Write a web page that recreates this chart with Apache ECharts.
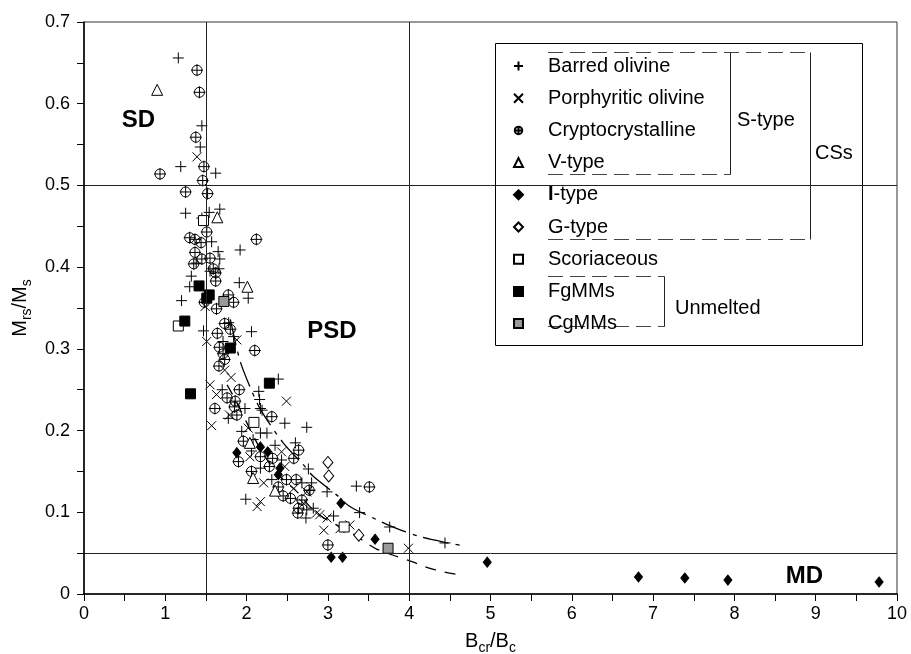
<!DOCTYPE html>
<html>
<head>
<meta charset="utf-8">
<script src="https://cdn.jsdelivr.net/npm/echarts@6/dist/echarts.min.js"></script>
<style>
html, body { margin: 0; padding: 0; background: #fff; }
#chart { width: 911px; height: 654px; }
</style>
</head>
<body>
<div id="chart"></div>
<script>
// points: [Bcr/Bc, Mrs/Ms]
var barredOlivine = [[1.16,0.656],[1.45,0.573],[1.43,0.547],[1.19,0.523],[1.62,0.515],[1.25,0.466],[1.54,0.467],
  [1.67,0.471],[1.45,0.460],[1.57,0.431],[1.92,0.421],[1.65,0.419],[1.67,0.410],[1.66,0.398],[1.32,0.389],[1.30,0.376],
  [1.91,0.381],[2.02,0.362],[1.20,0.359],[1.38,0.405],[1.55,0.395],[1.78,0.332],[1.47,0.322],[2.06,0.321],[1.84,0.315],
  [1.71,0.309],[2.39,0.263],[1.70,0.250],[2.15,0.248],[2.16,0.238],[1.98,0.227],[2.17,0.227],[2.19,0.225],[1.775,0.215],
  [2.47,0.209],[2.74,0.204],[1.94,0.199],[2.17,0.197],[2.25,0.197],[2.08,0.189],[2.35,0.182],[2.60,0.185],[2.06,0.175],
  [2.43,0.164],[2.17,0.154],[2.76,0.153],[2.31,0.140],[2.68,0.136],[2.78,0.127],[1.99,0.116],[2.74,0.103],[2.80,0.136],
  [3.35,0.132],[2.99,0.125],[2.82,0.105],[3.39,0.0996],[2.73,0.093],[3.07,0.0955],[3.76,0.082],[4.44,0.0625]];
var porphyriticOlivine = [[1.39,0.535],[1.49,0.352],[1.51,0.309],[1.88,0.311],[1.73,0.274],[1.81,0.265],[1.55,0.256],
  [1.63,0.244],[2.49,0.236],[1.79,0.219],[1.57,0.206],[2.02,0.203],[2.04,0.168],[2.47,0.156],[2.43,0.174],[2.21,0.136],
  [2.58,0.129],[2.74,0.125],[2.17,0.113],[2.13,0.107],[2.70,0.111],[2.86,0.099],[2.90,0.097],[2.99,0.093],[2.95,0.078],
  [3.15,0.080],[3.27,0.0845],[3.99,0.056]];
var cryptocrystalline = [[1.39,0.641],[1.42,0.614],[1.375,0.559],[1.475,0.523],[0.935,0.514],[1.46,0.506],[1.25,0.492],
  [1.52,0.490],[1.51,0.443],[1.30,0.436],[1.365,0.434],[1.44,0.430],[2.12,0.434],[1.365,0.418],[1.45,0.410],[1.35,0.404],
  [1.55,0.411],[1.59,0.398],[1.62,0.393],[1.62,0.383],[1.775,0.366],[1.48,0.357],[1.84,0.357],[1.63,0.349],[1.73,0.331],
  [1.80,0.324],[1.64,0.319],[1.665,0.302],[2.10,0.298],[1.71,0.294],[1.73,0.287],[1.66,0.279],[1.91,0.250],[1.76,0.240],
  [1.86,0.236],[1.61,0.227],[1.85,0.229],[1.88,0.219],[2.31,0.217],[1.96,0.187],[2.64,0.176],[2.17,0.168],[2.32,0.166],
  [2.58,0.166],[1.90,0.162],[2.28,0.156],[2.06,0.150],[2.49,0.140],[2.61,0.140],[2.39,0.131],[2.45,0.120],[2.54,0.117],
  [2.68,0.115],[2.64,0.105],[2.63,0.099],[3.51,0.131],[2.77,0.127],[3.0,0.060]];
var vType = [[0.90,0.617],[1.64,0.461],[2.01,0.376],[2.04,0.185],[2.08,0.142],[2.35,0.1265]];
var iType = [[1.88,0.173],[2.17,0.180],[2.26,0.174],[2.41,0.154],[2.39,0.146],[3.16,0.111],[3.58,0.067],[3.04,0.045],
  [3.18,0.045],[4.96,0.039],[6.82,0.0208],[7.39,0.0196],[7.92,0.017],[9.78,0.0147]];
var gType = [[3.0,0.161],[3.01,0.1445],[3.38,0.072]];
var scoriaceous = [[1.16,0.328],[1.47,0.457],[2.09,0.210],[3.20,0.082]];
var fgMMs = [[1.415,0.377],[1.54,0.366],[1.51,0.362],[1.24,0.334],[1.80,0.301],[2.28,0.258],[1.31,0.245]];
var cgMMs = [[1.72,0.358],[3.74,0.056]];

// mixing curves
var upperCurve = [[1.80,0.336],[1.92,0.285],[2.04,0.254],[2.17,0.226],[2.45,0.185],[2.70,0.158],[2.82,0.144],
  [3.11,0.121],[3.27,0.107],[3.60,0.091],[3.85,0.080],[4.14,0.070],[4.45,0.063],[4.67,0.059]];
var lowerCurve = [[1.76,0.256],[1.86,0.238],[2.0,0.21],[2.2,0.172],[2.4,0.145],[2.62,0.125],[2.8,0.105],[3.0,0.09],
  [3.2,0.08],[3.32,0.073],[3.48,0.062],[3.60,0.055],[3.83,0.0465],[4.05,0.039],[4.18,0.034],[4.30,0.030],
  [4.42,0.027],[4.55,0.0245],[4.67,0.023]];

var boundaryX = [1.5, 4];
var boundaryY = [0.05, 0.5];
var regionNames = ['SD', 'PSD', 'MD'];
var regionPos = [[0.67,0.58],[3.05,0.321],[8.86,0.021]];

var legendNames = ['Barred olivine','Porphyritic olivine','Cryptocrystalline','V-type','I-type','G-type',
  'Scoriaceous','FgMMs','CgMMs'];

var FONT = '"Liberation Sans", Arial, sans-serif';
var plusPath = 'path://M5,0L5,10M0,5L10,5';
var crossPath = 'path://M0,0L10,10M10,0L0,10';
var circlePlusPath = 'path://M0,5A5,5,0,1,1,10,5A5,5,0,1,1,0,5ZM5,-1L5,11M-1,5L11,5';

function pts(name, data, symbol, size, fill, stroke) {
  return {
    name: name, type: 'scatter', data: data, symbol: symbol, symbolSize: size,
    itemStyle: { color: fill, borderColor: stroke, borderWidth: 1, opacity: 1 },
    emphasis: { disabled: true }, z: 3
  };
}

var chart = echarts.init(document.getElementById('chart'));
var subText = {
  n: { fontSize: 20, fontFamily: FONT, color: '#000', lineHeight: 24, verticalAlign: 'top' },
  s: { fontSize: 14, fontFamily: FONT, color: '#000', lineHeight: 12, verticalAlign: 'bottom' }
};

var option = {
  animation: false,
  grid: { left: 84, right: 14, top: 22, bottom: 60, show: true, borderColor: '#333', borderWidth: 1, outerBoundsMode: 'none' },
  xAxis: {
    type: 'value', min: 0, max: 10, interval: 1,
    name: '{n|B}{s|cr}{n|/B}{s|c}', nameLocation: 'middle', nameGap: 37,
    nameTextStyle: { rich: subText },
    axisLine: { show: true, onZero: false, lineStyle: { color: '#000', width: 1.5 } },
    axisTick: { show: true, inside: false, length: 7, lineStyle: { color: '#000' } },
    minorTick: { show: true, splitNumber: 2, length: 7, lineStyle: { color: '#000' } },
    axisLabel: { fontSize: 18, fontFamily: FONT, color: '#000', margin: 11, showMinLabel: true, showMaxLabel: true },
    splitLine: { show: false }
  },
  yAxis: {
    type: 'value', min: 0, max: 0.7, interval: 0.1,
    name: '{n|M}{s|rs}{n|/M}{s|s}', nameLocation: 'middle', nameGap: 50,
    nameTextStyle: { rich: subText },
    axisLine: { show: true, onZero: false, lineStyle: { color: '#000', width: 1.5 } },
    axisTick: { show: true, inside: false, length: 7, lineStyle: { color: '#000' } },
    minorTick: { show: true, splitNumber: 2, length: 7, lineStyle: { color: '#000' } },
    axisLabel: {
      fontSize: 18, fontFamily: FONT, color: '#000', margin: 14, showMinLabel: true, showMaxLabel: true,
      formatter: function (v) { return v === 0 ? '0' : v.toFixed(1); }
    },
    splitLine: { show: false }
  },
  legend: {
    orient: 'vertical', left: 513, top: 56, padding: 0, itemGap: 12.2,
    itemWidth: 9, itemHeight: 9, selectedMode: false, z: 6,
    data: legendNames,
    formatter: function (name) { return name === 'I-type' ? '{b|I}-type' : name; },
    textStyle: {
      fontSize: 20, fontFamily: FONT, color: '#000', lineHeight: 20, padding: [0, 0, 0, 20],
      rich: { b: { fontSize: 20, fontFamily: FONT, fontWeight: 'bold', color: '#000' } }
    }
  },
  graphic: [
    { type: 'rect', z: 5, shape: { x: 495.5, y: 43.5, width: 367, height: 302 },
      style: { fill: '#fff', stroke: '#000', lineWidth: 1 } },
    // S-type bracket
    { type: 'line', z: 6, shape: { x1: 548, y1: 52.5, x2: 810, y2: 52.5 }, style: { stroke: '#444', lineDash: [15, 7] } },
    { type: 'line', z: 6, shape: { x1: 548, y1: 174.5, x2: 730.5, y2: 174.5 }, style: { stroke: '#444', lineDash: [15, 7] } },
    { type: 'line', z: 6, shape: { x1: 730.5, y1: 52.5, x2: 730.5, y2: 174.5 }, style: { stroke: '#222' } },
    // CSs bracket
    { type: 'line', z: 6, shape: { x1: 548, y1: 239.5, x2: 810.5, y2: 239.5 }, style: { stroke: '#444', lineDash: [15, 7] } },
    { type: 'line', z: 6, shape: { x1: 810.5, y1: 52.5, x2: 810.5, y2: 239.5 }, style: { stroke: '#222' } },
    // Unmelted bracket
    { type: 'line', z: 6, shape: { x1: 548, y1: 276.5, x2: 664.5, y2: 276.5 }, style: { stroke: '#444', lineDash: [15, 7] } },
    { type: 'line', z: 6, shape: { x1: 548, y1: 326.5, x2: 664.5, y2: 326.5 }, style: { stroke: '#444', lineDash: [15, 7] } },
    { type: 'line', z: 6, shape: { x1: 664.5, y1: 276.5, x2: 664.5, y2: 326.5 }, style: { stroke: '#222' } },
    { type: 'text', z: 6, x: 737, y: 120, style: { text: 'S-type', font: '20px ' + FONT, fill: '#000', textVerticalAlign: 'middle' } },
    { type: 'text', z: 6, x: 815, y: 153, style: { text: 'CSs', font: '20px ' + FONT, fill: '#000', textVerticalAlign: 'middle' } },
    { type: 'text', z: 6, x: 675, y: 308, style: { text: 'Unmelted', font: '20px ' + FONT, fill: '#000', textVerticalAlign: 'middle' } }
  ],
  series: [
    {
      name: 'regions', type: 'scatter', symbolSize: 1, itemStyle: { color: 'transparent' },
      emphasis: { disabled: true }, z: 2,
      data: regionNames.map(function (n, i) { return { name: n, value: regionPos[i] }; }),
      label: {
        show: true, position: 'inside', formatter: '{b}', fontSize: 24, fontWeight: 'bold', fontFamily: FONT,
        color: '#000', opacity: 1, textBorderWidth: 0
      },
      markLine: {
        silent: true, symbol: 'none', animation: false, label: { show: false },
        lineStyle: { color: '#222', width: 1, type: 'solid' },
        data: boundaryX.map(function (v) { return { xAxis: v }; })
          .concat(boundaryY.map(function (v) { return { yAxis: v }; }))
      }
    },
    {
      name: 'upper', type: 'line', data: upperCurve, showSymbol: false, smooth: 0.3, z: 2,
      lineStyle: { color: '#000', width: 1.3, type: [26, 7, 4, 7] }, emphasis: { disabled: true }
    },
    {
      name: 'lower', type: 'line', data: lowerCurve, showSymbol: false, smooth: 0.3, z: 2,
      lineStyle: { color: '#000', width: 1.3, type: [11, 9] }, emphasis: { disabled: true }
    },
    pts('Barred olivine', barredOlivine, plusPath, 11, 'transparent', '#000'),
    pts('Porphyritic olivine', porphyriticOlivine, crossPath, 9, 'transparent', '#000'),
    pts('Cryptocrystalline', cryptocrystalline, circlePlusPath, 12, 'transparent', '#000'),
    pts('V-type', vType, 'triangle', 11, '#fff', '#000'),
    pts('I-type', iType, 'diamond', [8, 10], '#000', '#000'),
    pts('G-type', gType, 'diamond', [10, 12], '#fff', '#000'),
    pts('Scoriaceous', scoriaceous, 'rect', 10, '#fff', '#000'),
    pts('FgMMs', fgMMs, 'rect', 10, '#000', '#000'),
    pts('CgMMs', cgMMs, 'rect', 10, '#999', '#000')
  ]
};
chart.setOption(option);
</script>
</body>
</html>
